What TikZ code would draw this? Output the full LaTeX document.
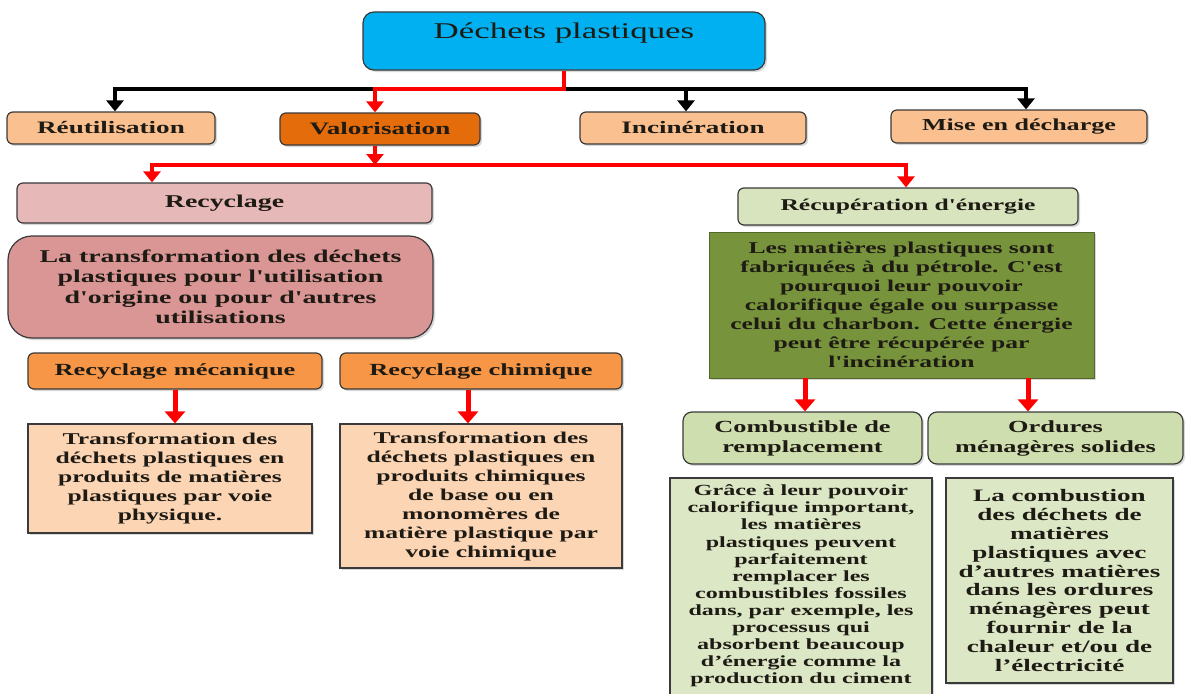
\documentclass[tikz,border=0pt]{standalone}
\usepackage{fontspec}
\setmainfont{Liberation Serif}[FakeStretch=1.55,Ligatures=TeXOff]
\usetikzlibrary{arrows.meta,shadows}
\newcommand\fsz[2]{\fontsize{#1}{#2}\selectfont}
\definecolor{cblue}{HTML}{00B0F0}
\definecolor{clorange}{HTML}{FAC090}
\definecolor{cdorange}{HTML}{E46C0A}
\definecolor{cpink}{HTML}{E6B9B8}
\definecolor{cmauve}{HTML}{D99694}
\definecolor{corange}{HTML}{F79646}
\definecolor{cpeach}{HTML}{FCD5B4}
\definecolor{clgreen}{HTML}{D7E4BD}
\definecolor{cdgreen}{HTML}{77933C}
\definecolor{cmgreen}{HTML}{CFDEAE}
\definecolor{cpgreen}{HTML}{DCE7C5}
\definecolor{cred}{HTML}{FF0000}
\definecolor{cedge}{HTML}{3A3A3A}
\definecolor{ctext}{HTML}{1E1A14}
\tikzset{
  box/.style={draw=cedge, line width=1.2pt, align=center, inner sep=0pt, text=ctext,
    font=\bfseries\fsz{17}{19},
    drop shadow={shadow xshift=2pt, shadow yshift=-2pt, opacity=0.3}},
  rbox/.style={box, rounded corners=6pt},
  redarr/.style={draw=cred, line width=4pt, -{Triangle[width=17pt,length=11pt]}},
  redarrb/.style={draw=cred, line width=5pt, -{Triangle[width=20pt,length=12pt]}},
  blkarr/.style={draw=black, line width=3.5pt, -{Triangle[width=17pt,length=11pt]}},
}
\begin{document}
\begin{tikzpicture}[x=1pt,y=-1pt]
\useasboundingbox (0,0) rectangle (1185,693);
\fill[white] (0,0) rectangle (1185,693);
% top
\node[rbox, fill=cblue, rounded corners=11pt, minimum width=402pt, minimum height=58pt] (top) at (564,41) {};
\node[font=\fsz{22.5}{24}, text=ctext] (toptxt) at (564,33) {Déchets plastiques};
% row 2
\node[rbox, fill=clorange, minimum width=208pt, minimum height=32pt, font=\bfseries\fsz{17.5}{19}] (reut) at (111,128) {Réutilisation};
\node[rbox, fill=cdorange, minimum width=200pt, minimum height=32pt, font=\bfseries\fsz{17.5}{19}] (valo) at (380,129) {Valorisation};
\node[rbox, fill=clorange, minimum width=226pt, minimum height=32pt, font=\bfseries\fsz{17.5}{19}] (incin) at (693,128) {Incinération};
\node[rbox, fill=clorange, minimum width=256pt, minimum height=33pt, font=\bfseries\fsz{16.8}{19}] (mise) at (1019,126.5) {Mise en décharge};
% row 3
\node[rbox, fill=cpink, minimum width=415pt, minimum height=40pt, font=\bfseries\fsz{18}{20}] (recy) at (224.5,203) {Recyclage};
\node[rbox, fill=clgreen, minimum width=340pt, minimum height=37pt, font=\bfseries\fsz{16.5}{19}] (recup) at (908,206.5) {Récupération d'énergie};
% left part
\node[box, rounded corners=24pt, fill=cmauve, minimum width=425pt, minimum height=102pt, font=\bfseries\fsz{18}{20.5}] (latrans) at (220.5,287)
  {La transformation des déchets\\plastiques pour l'utilisation\\d'origine ou pour d'autres\\utilisations};
\node[rbox, fill=corange, minimum width=294pt, minimum height=36pt] (meca) at (175,371) {Recyclage mécanique};
\node[rbox, fill=corange, minimum width=282pt, minimum height=36pt] (chim) at (481,371) {Recyclage chimique};
\node[box, fill=cpeach, minimum width=284pt, minimum height=109pt, font=\bfseries\fsz{16.5}{19}] (trans1) at (170,478.5)
  {Transformation des\\déchets plastiques en\\produits de matières\\plastiques par voie\\physique.};
\node[box, fill=cpeach, minimum width=282pt, minimum height=144pt, font=\bfseries\fsz{16.5}{19}] (trans2) at (481,496)
  {Transformation des\\déchets plastiques en\\produits chimiques\\de base ou en\\monomères de\\matière plastique par\\voie chimique};
% right part
\node[box, draw=cdgreen!70!black, line width=0.8pt, fill=cdgreen, minimum width=385pt, minimum height=146pt, font=\bfseries\fsz{16.5}{19}] (dg) at (901.5,305)
  {Les matières plastiques sont\\fabriquées à du pétrole. C'est\\pourquoi leur pouvoir\\calorifique égale ou surpasse\\celui du charbon. Cette énergie\\peut être récupérée par\\l'incinération};
\node[rbox, rounded corners=9pt, fill=cmgreen, minimum width=239pt, minimum height=52pt, font=\bfseries\fsz{17}{20}] (comb) at (802.5,438) {Combustible de\\remplacement};
\node[rbox, rounded corners=9pt, fill=cmgreen, minimum width=255pt, minimum height=52pt, font=\bfseries\fsz{17}{20}] (ord) at (1055.5,438) {Ordures\\ménagères solides};
\node[box, fill=cpgreen, minimum width=262pt, minimum height=230pt] (grace) at (801,593) {};
\node[align=center, inner sep=0pt, text=ctext, font=\bfseries\fsz{15.5}{17.1}] (gracetxt) at (801,586)
  {Grâce à leur pouvoir\\calorifique important,\\les matières\\plastiques peuvent\\parfaitement\\remplacer les\\combustibles fossiles\\dans, par exemple, les\\processus qui\\absorbent beaucoup\\d’énergie comme la\\production du ciment};
\node[box, fill=cpgreen, minimum width=227pt, minimum height=205pt, font=\bfseries\fsz{17.5}{18.8}] (combust) at (1059.5,580.5)
  {La combustion\\des déchets de\\matières\\plastiques avec\\d’autres matières\\dans les ordures\\ménagères peut\\fournir de la\\chaleur et/ou de\\l’électricité};
% connectors level 1
\coordinate (bus) at (564,89);
\draw[blkarr] (bus) -| ([xshift=4pt]reut.north);
\draw[blkarr] (bus) -| ([xshift=-7pt]incin.north);
\draw[blkarr] (bus) -| ([xshift=7pt]mise.north);
\draw[redarr] (top.south) -- (bus) -| ([xshift=-5pt]valo.north);
% connectors level 2
\coordinate (bus2) at (375,165);
\draw[redarr] (bus2) -| ([xshift=-72.5pt]recy.north);
\draw[redarr] (bus2) -| ([xshift=-2pt]recup.north);
\draw[redarr] ([xshift=-5pt]valo.south) -- (bus2);
% lower arrows
\draw[redarrb] (meca.south) -- (meca.south |- trans1.north);
\draw[redarrb] ([xshift=-13pt]chim.south) -- ([xshift=-13pt]chim.south |- trans2.north);
\draw[redarrb] ([xshift=2.5pt]dg.south -| comb.north) -- ([xshift=2.5pt]comb.north);
\draw[redarrb] ([xshift=-27.5pt]dg.south -| ord.north) -- ([xshift=-27.5pt]ord.north);
\end{tikzpicture}
\end{document}
